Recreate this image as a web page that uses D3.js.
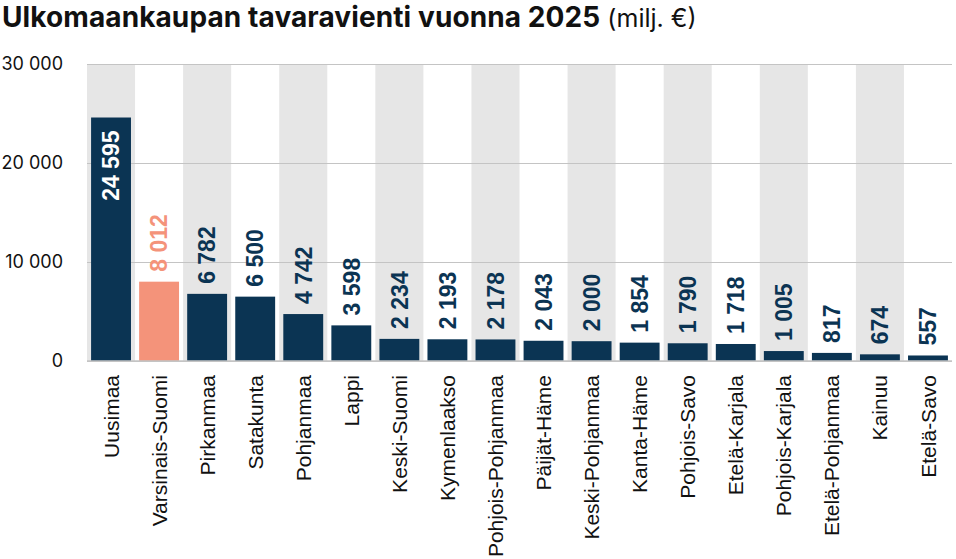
<!DOCTYPE html>
<html>
<head>
<meta charset="utf-8">
<script src="https://cdn.jsdelivr.net/npm/d3@7"></script>
<style>
  body { margin: 0; background: #fff; }
  svg { display: block; }
</style>
</head>
<body>
<div id="chart"></div>
<script>
// Data
const regions = ["Uusimaa", "Varsinais-Suomi", "Pirkanmaa", "Satakunta", "Pohjanmaa", "Lappi",
    "Keski-Suomi", "Kymenlaakso", "Pohjois-Pohjanmaa", "Päijät-Häme", "Keski-Pohjanmaa",
    "Kanta-Häme", "Pohjois-Savo", "Etelä-Karjala", "Pohjois-Karjala", "Etelä-Pohjanmaa",
    "Kainuu", "Etelä-Savo"];
const exportValues = [24595, 8012, 6782, 6500, 4742, 3598, 2234, 2193, 2178, 2043, 2000,
    1854, 1790, 1718, 1005, 817, 674, 557];
const yTicks = [0, 10000, 20000, 30000];
const highlighted = "Varsinais-Suomi";

const width = 956, height = 559;
const margin = { top: 64, right: 4, bottom: 198, left: 87 };

const navy = "#0b3453";
const salmon = "#f4937a";

const fmt = d3.formatLocale({ decimal: ",", thousands: " ", grouping: [3], currency: ["", " €"] }).format(",d");

const svg = d3.select("#chart").append("svg")
    .attr("width", width)
    .attr("height", height);

// title
const title = svg.append("text")
    .attr("x", 2)
    .attr("y", 27)
    .style("font-family", "Inter, 'Noto Sans', sans-serif")
    .attr("fill", "#111");
title.append("tspan").style("font-weight", "700").style("font-size", "28px").attr("letter-spacing", "0.1").text("Ulkomaankaupan tavaravienti vuonna 2025");
title.append("tspan").style("font-weight", "400").style("font-size", "25px").text(" (milj. €)");

const x = d3.scaleBand()
    .domain(regions)
    .range([margin.left, width - margin.right])
    .padding(0);

const y = d3.scaleLinear()
    .domain([0, 30000])
    .range([height - margin.bottom, margin.top]);

const barPad = 0.085;

// alternating background bands
svg.append("g")
    .selectAll("rect")
    .data(regions.filter((d, i) => i % 2 === 0))
    .enter()
    .append("rect")
    .attr("x", d => x(d))
    .attr("y", y(30000))
    .attr("width", x.bandwidth())
    .attr("height", y(0) - y(30000))
    .attr("fill", "#e6e6e6");

// gridlines + y axis labels
const yAxis = svg.append("g")
    .attr("transform", `translate(${margin.left},0)`)
    .call(d3.axisLeft(y).tickValues(yTicks).tickFormat(fmt).tickSize(-(width - margin.left - margin.right)).tickPadding(24));
yAxis.select(".domain").remove();
yAxis.selectAll(".tick line").attr("stroke", "#c4c4c4").attr("stroke-width", 1.2);
yAxis.selectAll(".tick text")
    .attr("fill", "#111")
    .style("font-family", "Inter, 'Noto Sans', sans-serif")
    .style("font-size", "18px");

// bars
svg.append("g")
    .selectAll("rect")
    .data(regions)
    .enter()
    .append("rect")
    .attr("x", d => x(d) + x.bandwidth() * barPad)
    .attr("width", x.bandwidth() * (1 - 2 * barPad))
    .attr("y", (d, i) => y(exportValues[i]))
    .attr("height", (d, i) => y(0) - y(exportValues[i]))
    .attr("fill", d => d === highlighted ? salmon : navy);

// value labels
svg.append("g")
    .selectAll("text")
    .data(regions)
    .enter()
    .append("text")
    .attr("transform", (d, i) => {
        const v = exportValues[i];
        const inside = v > 20000;
        const ty = inside ? y(v) + 13 : y(v) - 10;
        return `translate(${x(d) + x.bandwidth() / 2},${ty}) rotate(-90)`;
    })
    .attr("dy", "0.36em")
    .attr("text-anchor", (d, i) => exportValues[i] > 20000 ? "end" : "start")
    .attr("fill", (d, i) => exportValues[i] > 20000 ? "#fff" : (d === highlighted ? salmon : navy))
    .style("font-family", "'Liberation Sans', Arial, sans-serif")
    .style("font-weight", "700")
    .style("font-size", "23px")
    .text((d, i) => fmt(exportValues[i]));

// baseline
svg.append("line")
    .attr("x1", margin.left)
    .attr("x2", width - margin.right)
    .attr("y1", y(0))
    .attr("y2", y(0))
    .attr("stroke", "#c4c4c4")
    .attr("stroke-width", 1.5);

// category labels
svg.append("g")
    .selectAll("text")
    .data(regions)
    .enter()
    .append("text")
    .attr("transform", d => `translate(${x(d) + x.bandwidth() / 2},${y(0) + 14}) rotate(-90)`)
    .attr("dy", "0.36em")
    .attr("text-anchor", "end")
    .attr("fill", "#111")
    .style("font-family", "'Liberation Sans', Arial, sans-serif")
    .style("font-size", "21px")
    .text(d => d);
</script>
</body>
</html>
